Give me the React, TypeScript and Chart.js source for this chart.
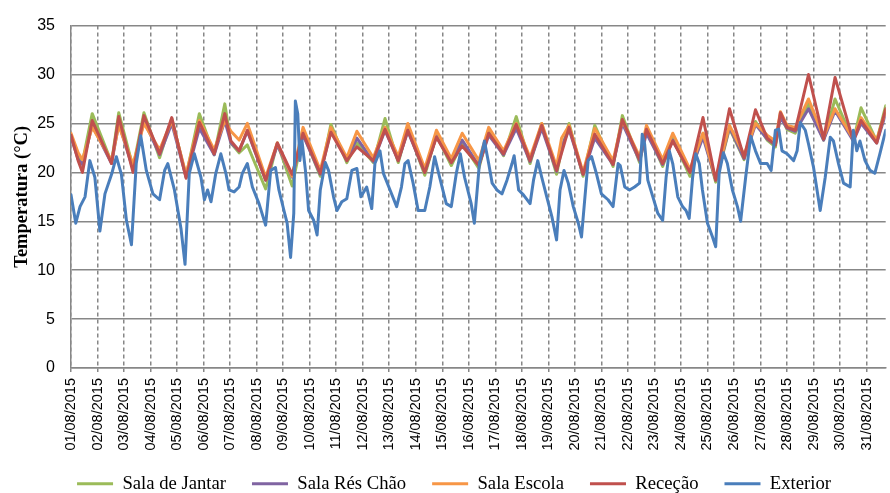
import React, { useEffect, useRef } from "react";
import Chart from "chart.js/auto";

const dateLabels = [
  "01/08/2015", "02/08/2015", "03/08/2015", "04/08/2015", "05/08/2015", "06/08/2015",
  "07/08/2015", "08/08/2015", "09/08/2015", "10/08/2015", "11/08/2015", "12/08/2015",
  "13/08/2015", "14/08/2015", "15/08/2015", "16/08/2015", "17/08/2015", "18/08/2015",
  "19/08/2015", "20/08/2015", "21/08/2015", "22/08/2015", "23/08/2015", "24/08/2015",
  "25/08/2015", "26/08/2015", "27/08/2015", "28/08/2015", "29/08/2015", "30/08/2015",
  "31/08/2015",
];

const yTicks = [0, 5, 10, 15, 20, 25, 30, 35];

// time in days since 01/08/2015 00:00 (indoor series key readings)
const indoorTimes = [
  0.0, 0.27, 0.43, 0.8, 1.53, 1.8, 2.34, 2.75, 3.34, 3.8, 4.34, 4.84, 5.4, 5.8, 6.03, 6.34, 6.65,
  7.34, 7.78, 8.34, 8.75, 9.4, 9.8, 10.4, 10.78, 11.4, 11.84, 12.34, 12.7, 13.34, 13.78, 14.34,
  14.75, 15.38, 15.75, 16.31, 16.79, 17.31, 17.75, 18.31, 18.5, 18.78, 19.31, 19.75, 20.44, 20.79,
  21.44, 21.7, 22.31, 22.69, 23.34, 23.83, 24.31, 24.83, 25.38, 25.81, 26.25, 26.56, 26.75, 27.0,
  27.31, 27.81, 28.38, 28.81, 29.5, 29.79, 30.38, 30.72,
];

const salaJantar = [
  23.8, 21.5, 21.0, 26.0, 21.0, 26.1, 20.5, 26.1, 21.5, 25.5, 19.6, 26.0, 21.8, 27.0, 23.0, 22.0, 22.8,
  18.3, 23.0, 18.6, 24.0, 19.6, 24.9, 21.0, 23.0, 21.0, 25.5, 21.0, 24.5, 19.7, 23.8, 20.7,
  23.0, 20.4, 24.2, 21.7, 25.7, 20.9, 25.0, 19.8, 22.3, 25.0, 19.6, 24.8, 20.6, 25.8,
  21.0, 24.4, 20.6, 23.5, 19.6, 24.0, 19.0, 24.5, 21.3, 25.2, 23.3, 22.6, 25.8, 24.4,
  24.0, 27.0, 23.3, 27.5, 23.2, 26.6, 23.2, 26.8,
];

const salaResChao = [
  23.6, 21.3, 20.8, 24.8, 20.9, 25.0, 20.3, 25.3, 21.8, 25.0, 19.5, 24.5, 21.8, 25.3, 23.0, 22.2, 24.2,
  19.2, 22.8, 19.5, 23.8, 19.8, 24.3, 21.2, 23.5, 21.1, 24.3, 21.2, 24.2, 20.0, 23.7, 21.0,
  23.3, 20.7, 23.8, 21.8, 24.5, 21.1, 24.5, 20.1, 22.6, 24.4, 19.8, 23.5, 20.8, 25.0,
  21.2, 24.0, 20.8, 23.3, 20.0, 23.6, 19.2, 24.6, 21.4, 24.9, 23.4, 22.8, 25.6, 24.5,
  24.2, 26.5, 23.3, 26.3, 23.2, 25.0, 23.0, 26.0,
];

const salaEscola = [
  24.0, 22.0, 21.3, 24.6, 21.2, 24.8, 20.8, 25.0, 22.3, 25.3, 19.8, 25.3, 22.3, 25.3, 24.2, 23.3, 25.0,
  19.5, 23.0, 19.6, 24.6, 20.2, 24.6, 21.5, 24.2, 21.5, 24.6, 21.6, 25.0, 20.4, 24.3, 21.4,
  24.0, 21.2, 24.6, 22.2, 25.0, 21.5, 25.0, 20.6, 23.5, 24.8, 20.0, 24.5, 21.2, 25.3,
  21.6, 24.8, 21.3, 24.0, 20.3, 24.0, 19.3, 24.8, 21.8, 25.0, 23.8, 23.2, 26.2, 24.8,
  24.6, 27.5, 23.6, 26.5, 23.4, 25.6, 23.3, 26.3,
];

const rececao = [
  23.8, 21.2, 20.0, 25.3, 20.9, 25.7, 20.0, 25.8, 21.9, 25.6, 19.4, 25.1, 21.9, 26.0, 23.2, 22.2, 24.3,
  19.2, 23.0, 19.8, 24.0, 19.9, 24.1, 21.2, 22.6, 21.2, 24.4, 21.2, 24.3, 20.0, 23.6, 21.0,
  22.7, 20.7, 24.0, 21.9, 24.9, 21.2, 24.8, 20.2, 22.0, 24.6, 19.8, 23.9, 20.8, 25.4,
  21.3, 24.4, 20.9, 23.2, 20.0, 25.6, 19.2, 26.5, 21.5, 26.4, 23.5, 22.8, 26.1, 24.6,
  24.3, 30.0, 23.4, 29.7, 23.2, 25.3, 23.0, 26.5,
];

// time in days since 01/08/2015 00:00 (outdoor readings)
const exteriorTimes = [
  0.0, 0.18, 0.34, 0.53, 0.71, 0.9, 1.09, 1.28, 1.53, 1.71, 1.9, 2.09, 2.28, 2.46, 2.63, 2.84,
  3.09, 3.34, 3.53, 3.65, 3.9, 4.15, 4.3, 4.46, 4.65, 4.9, 5.03, 5.15, 5.28, 5.46, 5.65, 5.84,
  5.96, 6.15, 6.34, 6.46, 6.65, 6.84, 7.09, 7.34, 7.53, 7.71, 7.84, 8.03, 8.15, 8.28, 8.4, 8.46,
  8.55, 8.63, 8.71, 8.84, 8.96, 9.15, 9.28, 9.4, 9.59, 9.71, 9.9, 10.03, 10.21, 10.4, 10.59,
  10.78, 10.93, 11.15, 11.34, 11.46, 11.65, 11.78, 12.03, 12.28, 12.46, 12.59, 12.71, 12.9,
  13.09, 13.34, 13.53, 13.71, 13.9, 14.15, 14.34, 14.53, 14.68, 14.84, 15.09, 15.21, 15.4,
  15.59, 15.75, 15.88, 16.06, 16.25, 16.44, 16.63, 16.71, 16.88, 17.06, 17.31, 17.44, 17.6,
  17.75, 17.94, 18.13, 18.31, 18.44, 18.59, 18.75, 18.94, 19.13, 19.25, 19.38, 19.5, 19.63,
  19.81, 20.0, 20.25, 20.44, 20.63, 20.71, 20.88, 21.06, 21.25, 21.44, 21.54, 21.63, 21.75,
  21.94, 22.13, 22.31, 22.44, 22.56, 22.69, 22.88, 23.06, 23.19, 23.31, 23.44, 23.56, 23.69,
  23.81, 24.0, 24.19, 24.31, 24.44, 24.6, 24.75, 24.94, 25.13, 25.25, 25.44, 25.63, 25.81,
  26.0, 26.25, 26.4, 26.56, 26.69, 26.81, 27.0, 27.25, 27.38, 27.5, 27.69, 27.81, 28.0, 28.25,
  28.44, 28.63, 28.75, 28.94, 29.13, 29.38, 29.5, 29.63, 29.75, 29.94, 30.13, 30.31, 30.5, 30.72,
];

const exterior = [
  17.7, 14.8, 16.5, 17.5, 21.2, 19.5, 14.0, 17.8, 19.8, 21.6, 19.8, 15.1, 12.6, 20.9, 23.75, 20.2,
  17.8, 17.2, 20.2, 20.9, 18.2, 14.2, 10.6, 19.9, 21.9, 19.5, 17.2, 18.2, 17.0, 19.9, 21.9, 19.9,
  18.2, 18.0, 18.5, 19.9, 20.9, 18.5, 16.8, 14.6, 20.2, 20.5, 18.2, 16.1, 14.8, 11.3, 15.8, 27.3,
  26.0, 21.2, 23.2, 20.2, 16.1, 15.1, 13.6, 18.2, 21.0, 20.2, 17.5, 16.1, 17.0, 17.3, 20.2,
  20.4, 17.5, 18.5, 16.3, 20.9, 22.2, 19.9, 18.2, 16.5, 18.5, 20.9, 21.2, 18.9,
  16.1, 16.1, 18.5, 21.6, 19.5, 16.8, 16.5, 19.9, 21.9, 19.5, 16.8, 14.8, 20.9,
  23.2, 20.9, 18.9, 18.2, 17.8, 19.2, 20.9, 21.7, 18.2, 17.7, 16.8, 19.2, 21.2,
  19.5, 17.5, 15.5, 13.1, 18.2, 20.2, 18.9, 16.5, 14.8, 13.4, 17.5, 21.2, 21.6,
  19.9, 17.8, 17.2, 16.5, 20.9, 20.7, 18.5, 18.2, 18.5, 18.9, 23.9, 22.9, 19.2,
  17.5, 15.8, 15.1, 19.5, 22.2, 20.9, 17.5, 16.5, 16.1, 15.3, 19.5, 21.9, 20.9,
  18.2, 14.8, 13.4, 12.4, 19.9, 22.0, 20.9, 18.2, 16.5, 15.0, 19.5, 23.7, 22.2,
  20.9, 20.9, 20.2, 24.3, 24.4, 22.2, 21.9, 21.2, 22.2, 25.1, 24.3, 22.9, 20.5, 16.1,
  19.5, 23.6, 23.2, 20.9, 18.9, 18.5, 24.3, 22.2, 23.2, 21.2, 20.2, 19.9, 21.9, 24.3,
];

const seriesNames = ["Sala de Jantar", "Sala Rés Chão", "Sala Escola", "Receção", "Exterior"];
const seriesColors = ["#9BBB59", "#8064A2", "#F79646", "#C0504D", "#4A7EBB"];

const GRID = "#878787";

export default function App() {
  const ref = useRef<HTMLCanvasElement | null>(null);

  useEffect(() => {
    document.body.style.margin = "0";
    const canvas = ref.current;
    if (!canvas) return;

    const toPts = (ts: number[], vs: number[]) => ts.map((t, i) => ({ x: t, y: vs[i] }));
    const seriesData = [
      toPts(indoorTimes, salaJantar),
      toPts(indoorTimes, salaResChao),
      toPts(indoorTimes, salaEscola),
      toPts(indoorTimes, rececao),
      toPts(exteriorTimes, exterior),
    ];

    const adjustBoxes = {
      id: "adjustBoxes",
      afterLayout(chart: any) {
        const lg = chart.legend;
        if (lg) {
          lg.left += 9;
          lg.right += 9;
          lg.top += 10;
          lg.bottom += 10;
        }
        const xs = chart.scales.x;
        if (xs) xs.bottom += 30;
      },
    };

    const chart = new Chart(canvas, {
      type: "line",
      data: {
        datasets: seriesNames.map((name, i) => ({
          label: name,
          data: seriesData[i],
          borderColor: seriesColors[i],
          backgroundColor: seriesColors[i],
          borderWidth: 3,
          pointRadius: 0,
          tension: 0,
          borderJoinStyle: "round" as const,
          borderCapStyle: "round" as const,
          order: seriesNames.length - 1 - i,
        })),
      },
      options: {
        animation: false,
        responsive: false,
        devicePixelRatio: 1,
        layout: { padding: { top: 20, left: 0, right: 0, bottom: 0 } },
        plugins: {
          tooltip: { enabled: false },
          legend: {
            position: "bottom",
            labels: {
              boxWidth: 36,
              boxHeight: 3,
              padding: 26,
              color: "#000",
              font: { family: "'Liberation Serif', 'Times New Roman', serif", size: 18.67 },
              sort: (a: any, b: any) => a.datasetIndex - b.datasetIndex,
              generateLabels: (c: any) =>
                (Chart as any).defaults.plugins.legend.labels
                  .generateLabels(c)
                  .map((l: any) => ({ ...l, lineWidth: 0, fillStyle: l.strokeStyle })),
            },
          },
        },
        scales: {
          x: {
            type: "linear",
            min: 0,
            max: 30.72,
            afterBuildTicks: (s: any) => {
              s.ticks = dateLabels.map((_, i) => ({ value: i }));
            },
            afterFit: (s: any) => {
              s.height = 70.3;
            },
            ticks: {
              autoSkip: false,
              minRotation: 90,
              maxRotation: 90,
              padding: 6,
              color: "#000",
              font: { family: "'Liberation Sans', Arial, sans-serif", size: 14.5 },
              callback: (_v: any, i: number) => dateLabels[i] ?? "",
            },
            grid: {
              color: GRID,
              lineWidth: 1.5,
              tickLength: 4,
              tickColor: GRID,
              tickWidth: 1.5,
            },
            border: { color: GRID, width: 1.5, dash: [4, 3] },
          },
          y: {
            min: 0,
            max: 35,
            afterBuildTicks: (s: any) => {
              s.ticks = yTicks.map((v) => ({ value: v }));
            },
            afterFit: (s: any) => {
              s.width = 71;
            },
            ticks: {
              padding: 16,
              color: "#000",
              font: { family: "'Liberation Sans', Arial, sans-serif", size: 16 },
            },
            grid: { color: GRID, lineWidth: 1.5, drawTicks: false },
            border: { color: GRID, width: 1.5 },
            title: {
              display: true,
              text: "Temperatura (°C)",
              color: "#000",
              padding: { top: 11, bottom: 0 },
              font: { family: "'Liberation Serif', 'Times New Roman', serif", size: 18.5, weight: "bold" },
            },
          },
        },
      },
      plugins: [adjustBoxes],
    } as any);

    return () => chart.destroy();
  }, []);

  return (
    <div style={{ width: 890, height: 493 }}>
      <canvas ref={ref} width={890} height={493} style={{ display: "block" }} />
    </div>
  );
}
